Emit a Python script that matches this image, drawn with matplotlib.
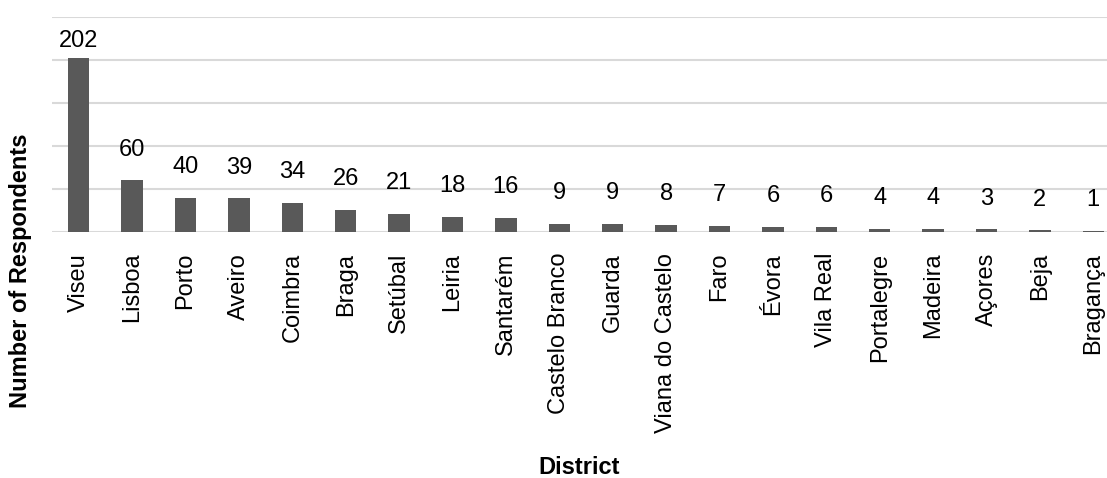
import matplotlib.pyplot as plt
import numpy as np

DISTRICTS = ['Viseu', 'Lisboa', 'Porto', 'Aveiro', 'Coimbra', 'Braga', 'Setúbal', 'Leiria',
             'Santarém', 'Castelo Branco', 'Guarda', 'Viana do Castelo', 'Faro', 'Évora',
             'Vila Real', 'Portalegre', 'Madeira', 'Açores', 'Beja', 'Bragança']
RESPONDENTS = [202, 60, 40, 39, 34, 26, 21, 18, 16, 9, 9, 8, 7, 6, 6, 4, 4, 3, 2, 1]
GRID_TICKS = [0, 50, 100, 150, 200, 250]

BAR_COLOR = "#595959"
GRID_COLOR = "#d9d9d9"

plt.rcParams['font.family'] = ['Liberation Sans', 'DejaVu Sans']

W, H = 1107, 478
fig = plt.figure(figsize=(W / 100, H / 100), dpi=100)
# axes runs a little past the right edge, as in the original
ax = fig.add_axes([52 / W, (H - 232) / H, 1068 / W, 215 / H])

x = np.arange(len(DISTRICTS))
vals = np.array(RESPONDENTS)
ax.bar(x, vals, width=0.4, color=BAR_COLOR, zorder=3)

ax.set_xlim(-0.5, len(DISTRICTS) - 0.5)
ax.set_ylim(GRID_TICKS[0], GRID_TICKS[-1])
ax.set_yticks(GRID_TICKS)
ax.set_yticklabels([])
ax.grid(axis='y', color=GRID_COLOR, linewidth=1.5, zorder=0)
ax.tick_params(axis='y', length=0)
ax.tick_params(axis='x', length=0, pad=15, labelsize=17)
ax.set_xticks(x)
ax.set_xticklabels(DISTRICTS, rotation=90, va='top', ha='center')
for s in ax.spines.values():
    s.set_visible(False)

# value labels sit above the bars, the tallest one is pulled down inside the plot
label_y = np.minimum(vals + 23, 209)
for xi, v, ly in zip(x, vals, label_y):
    ax.text(xi, ly, str(v), ha='center', va='bottom', fontsize=17, color='#000000', zorder=4)

fig.text(21 / W, 1 - 271 / H, "Number of Respondents", rotation=90, ha='center', va='center',
         fontsize=17, fontweight='bold')
fig.text(579 / W, 1 - 468 / H, "District", ha='center', va='center',
         fontsize=17, fontweight='bold')

fig.savefig("out.png", dpi=100)
